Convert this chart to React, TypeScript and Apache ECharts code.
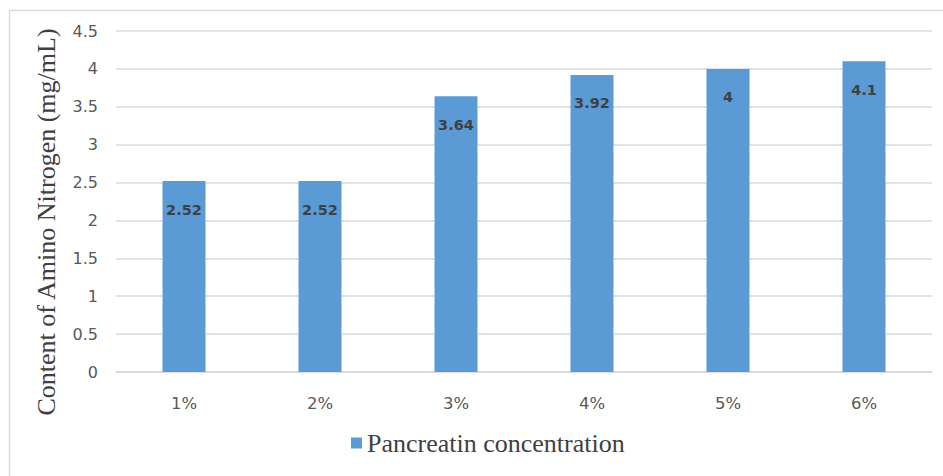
import React, { useEffect, useRef } from "react";
import * as echarts from "echarts";

const categories = ["1%", "2%", "3%", "4%", "5%", "6%"];
const aminoNitrogen = [2.52, 2.52, 3.64, 3.92, 4, 4.1];
const seriesName = "Pancreatin concentration";
const yAxisTitle = "Content of Amino Nitrogen (mg/mL)";

export default function App() {
  const ref = useRef<HTMLDivElement>(null);

  useEffect(() => {
    if (!ref.current) return;
    const chart = echarts.init(ref.current, undefined, { renderer: "svg" });
    chart.setOption({
      animation: false,
      backgroundColor: "#ffffff",
      graphic: [
        {
          type: "rect",
          shape: { x: 9.5, y: 10.5, width: 940, height: 470 },
          style: { fill: "none", stroke: "#d9d9d9", lineWidth: 1.5 },
          silent: true,
        },
        {
          // vertical axis title, rotated to read bottom-to-top
          type: "text",
          x: 46,
          y: 222,
          rotation: Math.PI / 2,
          style: {
            text: yAxisTitle,
            align: "center",
            verticalAlign: "middle",
            fontFamily: "Liberation Serif",
            fontSize: 26,
            fill: "#404040",
          },
          silent: true,
        },
      ],
      grid: { left: 116, right: 11, top: 31, bottom: 104, containLabel: false },
      legend: {
        data: [seriesName],
        left: 346,
        top: 425,
        icon: "rect",
        itemWidth: 11,
        itemHeight: 11,
        itemGap: 8,
        textStyle: {
          fontFamily: "Liberation Serif",
          fontSize: 26,
          color: "#404040",
        },
      },
      xAxis: {
        type: "category",
        data: categories,
        axisTick: { show: false },
        axisLine: { lineStyle: { color: "#d9d9d9", width: 1.5 } },
        axisLabel: {
          color: "#595959",
          fontFamily: "DejaVu Sans",
          fontSize: 16.5,
          margin: 23,
        },
      },
      yAxis: {
        type: "value",
        min: 0,
        max: 4.5,
        interval: 0.5,
        axisLine: { show: false },
        axisTick: { show: false },
        axisLabel: {
          color: "#595959",
          fontFamily: "DejaVu Sans",
          fontSize: 16,
          margin: 18,
        },
        splitLine: { lineStyle: { color: "#d9d9d9", width: 1.5 } },
      },
      series: [
        {
          name: seriesName,
          type: "bar",
          data: aminoNitrogen,
          barWidth: "31.6%",
          itemStyle: { color: "#5b9bd5" },
          label: {
            show: true,
            position: "insideTop",
            distance: 21,
            color: "#404040",
            fontFamily: "DejaVu Sans",
            fontWeight: "bold",
            fontSize: 14.5,
          },
        },
      ],
    });
    return () => chart.dispose();
  }, []);

  return (
    <div
      ref={ref}
      style={{ position: "fixed", left: 0, top: 0, width: 943, height: 476 }}
    />
  );
}
